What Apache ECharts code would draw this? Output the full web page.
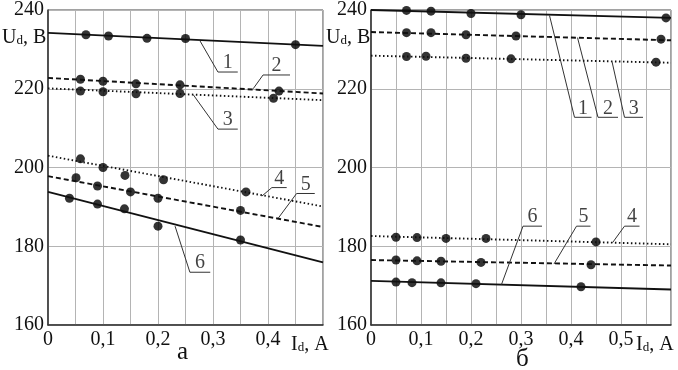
<!DOCTYPE html>
<html>
<head>
<meta charset="utf-8">
<script src="https://cdn.jsdelivr.net/npm/echarts@6/dist/echarts.min.js"></script>
<style>
  html, body { margin: 0; padding: 0; background: #fff; }
  #chart { width: 678px; height: 370px; }
</style>
</head>
<body>
<div id="chart"></div>
<script>
var myChart = echarts.init(document.getElementById('chart'));

var FONT = 'Liberation Serif';
var TEXT = '#111';

// fitted lines: value at x = 0 and at the right end of the axis
var fitA = [
    [234.2, 230.9],
    [222.75, 218.8],
    [220.1, 217.1],
    [203.0, 190.1],
    [197.8, 184.9],
    [193.8, 175.9]
];
var fitB = [
    [240.0, 238.0],
    [234.4, 232.3],
    [228.4, 226.6],
    [182.6, 180.5],
    [176.5, 175.1],
    [171.2, 169.0]
];

// measured points [I, U]
var pointsA = [
    [[0.069, 233.7], [0.11, 233.4], [0.18, 232.8], [0.25, 232.75], [0.45, 231.2]],
    [[0.059, 222.4], [0.10, 221.9], [0.16, 221.25], [0.24, 221.0], [0.42, 219.4]],
    [[0.059, 219.4], [0.10, 219.25], [0.16, 218.7], [0.24, 218.8], [0.41, 217.6]],
    [[0.059, 202.2], [0.10, 200.0], [0.14, 198.0], [0.21, 196.9], [0.36, 193.8]],
    [[0.051, 197.4], [0.09, 195.3], [0.15, 193.8], [0.20, 192.2], [0.35, 189.1]],
    [[0.039, 192.2], [0.09, 190.7], [0.139, 189.5], [0.20, 185.1], [0.35, 181.6]]
];
var pointsB = [
    [[0.071, 239.9], [0.12, 239.7], [0.20, 239.1], [0.30, 238.8], [0.59, 238.0]],
    [[0.071, 234.25], [0.12, 234.25], [0.19, 233.7], [0.29, 233.4], [0.58, 232.6]],
    [[0.071, 228.2], [0.11, 228.25], [0.19, 227.75], [0.28, 227.6], [0.57, 226.75]],
    [[0.05, 182.3], [0.092, 182.2], [0.15, 182.0], [0.23, 182.0], [0.45, 181.1]],
    [[0.05, 176.5], [0.092, 176.3], [0.14, 176.2], [0.22, 175.9], [0.44, 175.3]],
    [[0.05, 170.9], [0.082, 170.75], [0.14, 170.7], [0.21, 170.5], [0.42, 169.7]]
];

// leader lines for curve numbers (data coords)
var leadersA = [
    [[0.276, 232.25], [0.309, 224.25], [0.345, 224.25]],
    [[0.373, 220.0], [0.391, 223.5], [0.44, 223.5]],
    [[0.264, 218.5], [0.309, 209.75], [0.345, 209.75]],
    [[0.389, 192.75], [0.407, 194.9], [0.434, 194.9]],
    [[0.419, 187.2], [0.452, 193.4], [0.485, 193.4]],
    [[0.231, 185.1], [0.258, 173.4], [0.295, 173.4]]
];
var leadersB = [
    [[0.357, 238.6], [0.407, 212.75], [0.441, 212.75]],
    [[0.413, 233.0], [0.454, 212.75], [0.494, 212.75]],
    [[0.482, 226.9], [0.507, 212.75], [0.544, 212.75]],
    [[0.483, 180.9], [0.507, 185.1], [0.537, 185.1]],
    [[0.366, 175.5], [0.411, 185.1], [0.439, 185.1]],
    [[0.261, 170.3], [0.304, 185.1], [0.342, 185.1]]
];
var curveNames = ['1', '2', '3', '4', '5', '6'];
var lineTypes = ['solid', [5, 3], [1.5, 2.5], [1.5, 2.5], [5, 3], 'solid'];

var xMax = [0.5, 0.6];

function xLabel(maxK) {
    return function (v) {
        var k = Math.round(v * 100);
        if (k % 10 !== 0 || k === maxK) return '';
        return String(k / 100).replace('.', ',');
    };
}

function xAxisFor(i) {
    return {
        type: 'value', gridIndex: i, min: 0, max: xMax[i], interval: 0.05,
        axisLine: { show: true, onZero: false, lineStyle: { color: '#333', width: 1.5 } },
        axisTick: { show: false },
        splitLine: { show: true, lineStyle: { color: '#b4b4b4', width: 1 } },
        axisLabel: {
            showMinLabel: true, showMaxLabel: true, margin: 5,
            fontFamily: FONT, fontSize: 20, color: TEXT,
            formatter: xLabel(Math.round(xMax[i] * 100))
        }
    };
}

function yAxisFor(i) {
    return {
        type: 'value', gridIndex: i, min: 160, max: 240, interval: 20,
        axisLine: { show: true, lineStyle: { color: '#333', width: 1.5 } },
        axisTick: { show: false },
        splitLine: { show: true, lineStyle: { color: '#b4b4b4', width: 1 } },
        axisLabel: { margin: 4, fontFamily: FONT, fontSize: 20, color: TEXT }
    };
}

var series = [];
[[fitA, pointsA, leadersA], [fitB, pointsB, leadersB]].forEach(function (set, g) {
    var fit = set[0], pts = set[1], lead = set[2];
    for (var j = 0; j < 6; j++) {
        series.push({
            type: 'line', xAxisIndex: g, yAxisIndex: g, silent: true,
            symbol: 'none',
            lineStyle: { color: '#111', width: 1.9, type: lineTypes[j] },
            data: [[0, fit[j][0]], [xMax[g], fit[j][1]]]
        });
        series.push({
            type: 'scatter', xAxisIndex: g, yAxisIndex: g, silent: true,
            symbolSize: 9, itemStyle: { color: '#000' }, clip: false,
            data: pts[j]
        });
        series.push({
            type: 'line', xAxisIndex: g, yAxisIndex: g, silent: true,
            symbol: 'none',
            lineStyle: { color: '#333', width: 1 },
            data: lead[j]
        });
        series.push({
            type: 'scatter', xAxisIndex: g, yAxisIndex: g, silent: true,
            symbolSize: 0,
            label: {
                show: true, position: 'top', distance: -1,
                fontFamily: FONT, fontSize: 20, color: TEXT,
                formatter: curveNames[j]
            },
            data: [[(lead[j][1][0] + lead[j][2][0]) / 2, lead[j][1][1]]]
        });
    }
});

function subText(main, rest) {
    return {
        text: '{a|' + main + '}{b|d}{a|' + rest + '}',
        rich: {
            a: { fontFamily: FONT, fontSize: 20, fill: TEXT },
            b: { fontFamily: FONT, fontSize: 13, fill: TEXT, padding: [6, 0, 0, 0] }
        }
    };
}

var option = {
    backgroundColor: '#fff',
    animation: false,
    grid: [
        { left: 48, right: 355, top: 6, bottom: 45, show: true, borderColor: '#444', borderWidth: 1 },
        { left: 371, right: 7, top: 6, bottom: 45, show: true, borderColor: '#444', borderWidth: 1 }
    ],
    xAxis: [xAxisFor(0), xAxisFor(1)],
    yAxis: [yAxisFor(0), yAxisFor(1)],
    series: series,
    graphic: [
        { type: 'text', left: 2, top: 28, style: subText('U', ', B') },
        { type: 'text', left: 326, top: 28, style: subText('U', ', B') },
        { type: 'text', left: 291, top: 335, style: subText('I', ', A') },
        { type: 'text', left: 636, top: 335, style: subText('I', ', A') },
        { type: 'text', left: 177, top: 340, style: { text: 'а', fontFamily: FONT, fontSize: 25, fill: TEXT } },
        { type: 'text', left: 516, top: 347, style: { text: 'б', fontFamily: FONT, fontSize: 25, fill: TEXT } }
    ]
};

myChart.setOption(option);
</script>
</body>
</html>
